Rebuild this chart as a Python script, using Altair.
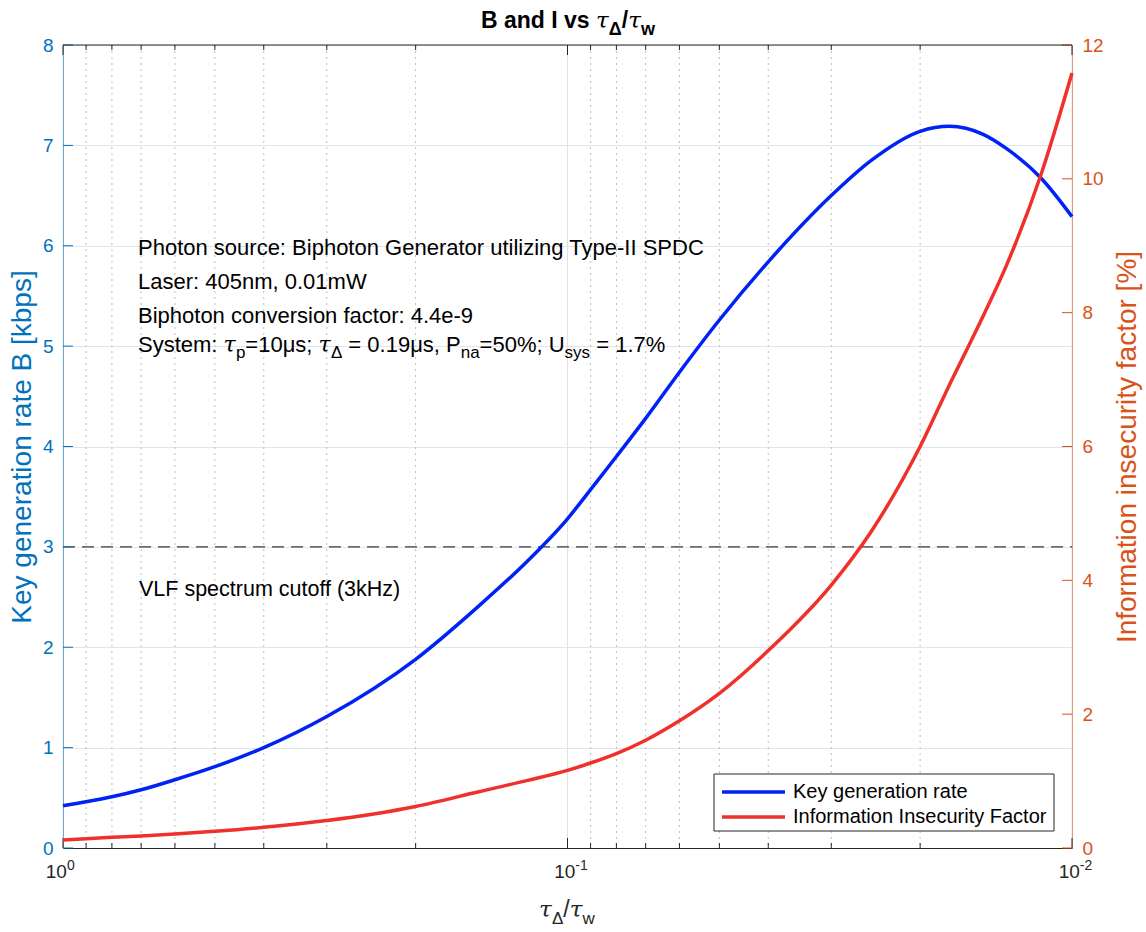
import altair as alt
import pandas as pd

# ---------------- data ----------------
tau_ratio = [1.0, 0.9, 0.8, 0.7, 0.6, 0.5, 0.4, 0.3, 0.2, 0.15, 0.12, 0.1, 0.09, 0.08,
             0.07, 0.06, 0.05, 0.04, 0.03, 0.025, 0.02, 0.0175, 0.015, 0.0135, 0.0115, 0.01]
key_rate = [0.42, 0.46, 0.51, 0.58, 0.68, 0.81, 1.00, 1.31, 1.88, 2.41, 2.86, 3.28, 3.57, 3.90,
            4.28, 4.74, 5.26, 5.84, 6.50, 6.85, 7.14, 7.19, 7.11, 6.97, 6.67, 6.29]
insecurity = [0.12, 0.14, 0.16, 0.18, 0.21, 0.25, 0.31, 0.41, 0.62, 0.84, 1.01, 1.16, 1.27, 1.41,
              1.61, 1.90, 2.31, 2.95, 3.93, 4.73, 6.00, 6.92, 7.95, 8.70, 10.08, 11.58]
series_names = ["Key generation rate", "Information Insecurity Factor"]
vlf_cutoff = [3]
left_tick_values = [0, 1, 2, 3, 4, 5, 6, 7, 8]
right_tick_values = [0, 2, 4, 6, 8, 10, 12]
x_major = [1.0, 0.1, 0.01]
x_major_base = ["10", "10", "10"]
x_major_exp = ["0", "-1", "-2"]
x_minor = [0.9, 0.8, 0.7, 0.6, 0.5, 0.4, 0.3, 0.2,
           0.09, 0.08, 0.07, 0.06, 0.05, 0.04, 0.03, 0.02]

# ---------------- layout / style ----------------
L, T = 63, 45
W, H = 1009, 803
FONT = "Liberation Sans"
SERIF = "DejaVu Serif"
BLUE = "#0022F5"
RED = "#F0302A"
LEFT_C = "#0072BD"
RIGHT_C = "#D95319"
DARK = "#262626"

xscale = alt.Scale(type="log", domain=[0.01, 1], reverse=True, nice=False)
xaxis = alt.Axis(labels=False, ticks=False, grid=False, title=None,
                 domainColor=DARK, domainWidth=1)


def X(field):
    return alt.X(field, type="quantitative", scale=xscale, axis=xaxis)


lscale = alt.Scale(domain=[0, 8], nice=False, zero=False)
laxis = alt.Axis(values=left_tick_values, orient="left", ticks=False, tickSize=0,
                 labelPadding=10, labelFontSize=19, labelFont=FONT, labelColor=LEFT_C,
                 domainColor=LEFT_C, domainWidth=1, grid=True, gridColor="#dfe6ef",
                 gridWidth=1, title="Key generation rate B [kbps]", titleFont=FONT,
                 titleFontSize=28, titleFontWeight="normal", titleColor=LEFT_C,
                 titleX=-41, titleY=H / 2, titleAngle=270, titleAlign="center",
                 titleBaseline="middle")
rscale = alt.Scale(domain=[0, 12], nice=False, zero=False)
raxis = alt.Axis(values=right_tick_values, orient="right", ticks=False, tickSize=0,
                 labelPadding=10, labelFontSize=19, labelFont=FONT, labelColor=RIGHT_C,
                 domainColor=RIGHT_C, domainWidth=1, grid=False,
                 title="Information insecurity factor [%]", titleFont=FONT,
                 titleFontSize=28, titleFontWeight="normal", titleColor=RIGHT_C,
                 titleX=55, titleY=H / 2, titleAngle=270, titleAlign="center",
                 titleBaseline="middle")

COLOR = alt.Color("series:N",
                  scale=alt.Scale(domain=series_names, range=[BLUE, RED]),
                  legend=None)

# ---------------- data frames ----------------
df_b = pd.DataFrame({"x": tau_ratio, "v": key_rate, "series": series_names[0]})
df_r = pd.DataFrame({"x": tau_ratio, "v": insecurity, "series": series_names[1]})
df_minor = pd.DataFrame({"v": x_minor})
df_major = pd.DataFrame({"v": x_major})
df_lt = pd.DataFrame({"v": left_tick_values})
df_rt = pd.DataFrame({"v": right_tick_values})
df_cut = pd.DataFrame({"v": vlf_cutoff})
one = pd.DataFrame({"k": [0]})

# ---------------- left group ----------------
grid_minor = alt.Chart(df_minor).mark_rule(color="#bdbdbd", strokeWidth=1, strokeDash=[2, 4]).encode(
    x=X("v"), y=alt.value(0), y2=alt.value(H))
grid_major = alt.Chart(df_major).mark_rule(color="#e2e2e2", strokeWidth=1).encode(
    x=X("v"), y=alt.value(0), y2=alt.value(H))

tick_bot_major = alt.Chart(df_major).mark_rule(color=DARK, strokeWidth=1).encode(
    x=X("v"), y=alt.value(H - 10), y2=alt.value(H))
tick_bot_minor = alt.Chart(df_minor).mark_rule(color=DARK, strokeWidth=1).encode(
    x=X("v"), y=alt.value(H - 5), y2=alt.value(H))
tick_top_major = alt.Chart(df_major).mark_rule(color=DARK, strokeWidth=1).encode(
    x=X("v"), y=alt.value(0), y2=alt.value(10))
tick_top_minor = alt.Chart(df_minor).mark_rule(color=DARK, strokeWidth=1).encode(
    x=X("v"), y=alt.value(0), y2=alt.value(5))

dashed = alt.Chart(df_cut).mark_rule(color="#3a3a3a", strokeWidth=1.2, strokeDash=[12, 7]).encode(
    y=alt.Y("v:Q", scale=lscale, axis=laxis), x=alt.value(0), x2=alt.value(W))
left_ticks = alt.Chart(df_lt).mark_rule(color=LEFT_C, strokeWidth=1).encode(
    y=alt.Y("v:Q", scale=lscale, axis=laxis), x=alt.value(0), x2=alt.value(10))

blue_line = alt.Chart(df_b).mark_line(strokeWidth=3.5, interpolate="monotone").encode(
    x=X("x"), y=alt.Y("v:Q", scale=lscale, axis=laxis), color=COLOR)

left = alt.layer(grid_minor, grid_major, dashed, left_ticks, tick_bot_major, tick_bot_minor,
                 tick_top_major, tick_top_minor, blue_line)

# ---------------- right group ----------------
right_ticks = alt.Chart(df_rt).mark_rule(color=RIGHT_C, strokeWidth=1).encode(
    y=alt.Y("v:Q", scale=rscale, axis=raxis), x=alt.value(W - 10), x2=alt.value(W))
red_line = alt.Chart(df_r).mark_line(strokeWidth=3.5, interpolate="monotone").encode(
    x=X("x"), y=alt.Y("v:Q", scale=rscale, axis=raxis), color=COLOR)
right = alt.layer(right_ticks, red_line)


# ---------------- texts ----------------
def txt(s, xa, ya, size, font=FONT, weight="normal", style="normal", color="#000000",
        align="left", baseline="alphabetic"):
    return alt.Chart(one).mark_text(text=s, font=font, fontSize=size, fontWeight=weight,
                                    fontStyle=style, color=color, align=align,
                                    baseline=baseline).encode(
        x=alt.value(xa - L), y=alt.value(ya - T))


# approximate advance widths (em) for Liberation Sans regular / bold
REG = {' ': .278, '=': .584, 'μ': .576, 's': .5, ';': .278, ',': .278, '.': .278, '%': .889,
       'P': .667, 'U': .722, 'S': .667, 'y': .5, 't': .278, 'e': .556, 'm': .833, ':': .278,
       'p': .556, 'n': .556, 'a': .556, 'Δ': .668, 'w': .722, '/': .278}
BOLD = {'B': .722, ' ': .278, 'a': .556, 'n': .611, 'd': .611, 'I': .278, 'v': .556,
        's': .556, '/': .278, 'w': .778, 'Δ': .722}
TAU_EM = 0.56


def width(s, size, bold=False):
    tab = BOLD if bold else REG
    return sum(tab.get(c, .556) for c in s) * size


def run(pieces, x0, base, msize, ssize, sub_drop, bold=False, color="#000000", center=False):
    """pieces: list of (text, kind) with kind 'm' main, 't' tau, 's' subscript"""
    ws = []
    for s, k in pieces:
        if k == 't':
            ws.append(TAU_EM * msize)
        elif k == 's':
            ws.append(width(s, ssize, bold))
        else:
            ws.append(width(s, msize, bold))
    x = x0 - sum(ws) / 2 if center else x0
    out = []
    wt = "bold" if bold else "normal"
    for (s, k), w in zip(pieces, ws):
        if k == 't':
            out.append(txt(s, x, base, msize, font=SERIF, style="italic", color=color))
        else:
            size = ssize if k == 's' else msize
            lead = len(s) - len(s.lstrip(" "))
            xs = x + width(" " * lead, size, bold)
            yb = base + (sub_drop if k == 's' else 0)
            out.append(txt(s.strip(" "), xs, yb, size, weight=wt, color=color))
        x += w
    return out


texts = []
top_border = alt.Chart(one).mark_rule(color=DARK, strokeWidth=1).encode(
    x=alt.value(0), x2=alt.value(W), y=alt.value(0))
texts.append(top_border)

# title
texts += run([("B and I vs ", 'm'), ("τ", 't'), ("Δ", 's'), ("/", 'm'), ("τ", 't'), ("w", 's')],
             568, 28, 23, 18, 7, bold=True, center=True)
# x axis title
texts += run([("τ", 't'), ("Δ", 's'), ("/", 'm'), ("τ", 't'), ("w", 's')],
             567, 917, 23, 17, 7, color=DARK, center=True)

# x tick labels (10^k), placed through the x scale
for val, base, ex in zip(x_major, x_major_base, x_major_exp):
    half = width(ex, 14) / 2
    texts.append(alt.Chart(one).mark_text(text=base, font=FONT, fontSize=19, color=DARK,
                                          align="right", baseline="alphabetic", dx=half).encode(
        x=alt.X(datum=val, type="quantitative", scale=xscale, axis=xaxis),
        y=alt.value(878 - T)))
    texts.append(alt.Chart(one).mark_text(text=ex, font=FONT, fontSize=14, color=DARK,
                                          align="left", baseline="alphabetic", dx=half).encode(
        x=alt.X(datum=val, type="quantitative", scale=xscale, axis=xaxis),
        y=alt.value(870 - T)))

# annotation block
AS = 22
texts += [
    txt("Photon source: Biphoton Generator utilizing Type-II SPDC", 138, 255, AS),
    txt("Laser: 405nm, 0.01mW", 138, 288.5, AS),
    txt("Biphoton conversion factor: 4.4e-9", 138, 322.5, AS),
    txt("VLF spectrum cutoff (3kHz)", 139, 596, 21.5),
]
texts += run([("System: ", 'm'), ("τ", 't'), ("p", 's'), ("=10μs; ", 'm'), ("τ", 't'),
              ("Δ", 's'), (" = 0.19μs, P", 'm'), ("na", 's'), ("=50%; U", 'm'),
              ("sys", 's'), (" = 1.7%", 'm')],
             138, 352, 22, 17, 6)

# legend box (MATLAB style), colours via the shared colour scale
LX0, LX1, LY0, LY1 = 714, 1054, 774, 831
legend_box = alt.Chart(one).mark_rect(fill="#ffffff", stroke=DARK, strokeWidth=1).encode(
    x=alt.value(LX0 - L), x2=alt.value(LX1 - L), y=alt.value(LY0 - T), y2=alt.value(LY1 - T))
legend_layers = [legend_box]
for i, name in enumerate(series_names):
    ry = 792 + 25 * i
    legend_layers.append(
        alt.Chart(pd.DataFrame({"series": [name]})).mark_rule(strokeWidth=3.5).encode(
            x=alt.value(722 - L), x2=alt.value(785 - L), y=alt.value(ry - T), color=COLOR))
    legend_layers.append(txt(name, 793, ry, 20, baseline="middle"))

chart = alt.layer(left, right, *texts, *legend_layers).resolve_scale(y="independent").properties(
    width=W, height=H,
    autosize=alt.AutoSizeParams(type="none"),
    padding={"left": L, "top": T, "right": 1146 - L - W, "bottom": 932 - T - H},
    background="#ffffff",
).configure_view(strokeWidth=0)

chart.save("out.html", embed_options={"renderer": "svg", "actions": False})
